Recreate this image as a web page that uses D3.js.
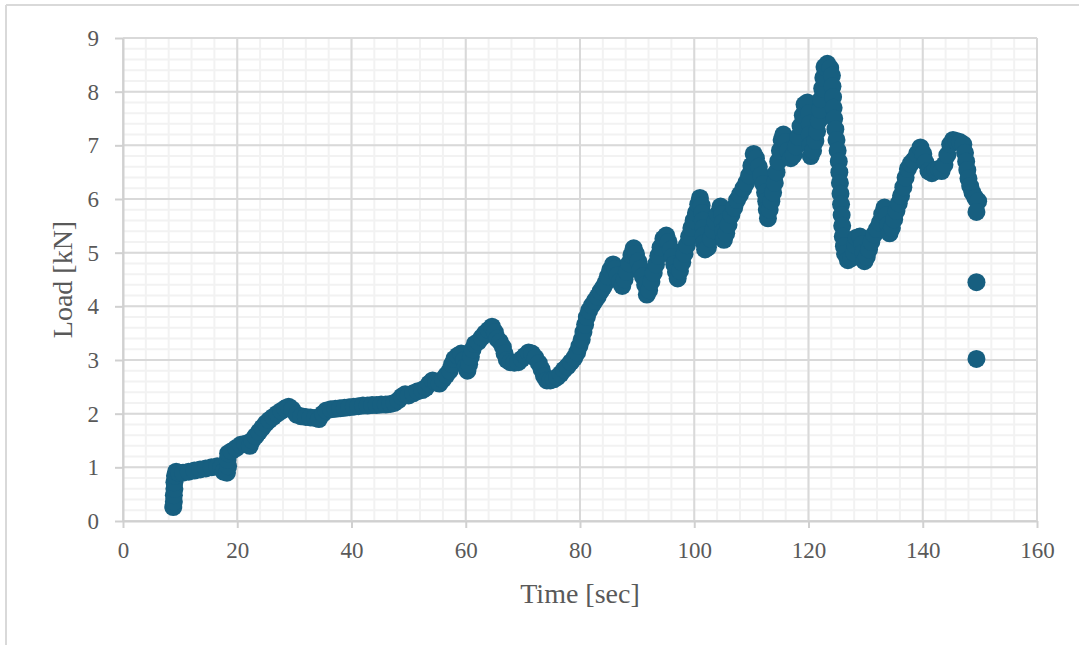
<!DOCTYPE html>
<html>
<head>
<meta charset="utf-8">
<script src="https://cdn.jsdelivr.net/npm/d3@7"></script>
<style>
  body { margin: 0; background: #fff; }
  svg text { font-family: "Liberation Serif", "Times New Roman", serif; fill: #595959; }
</style>
</head>
<body>
<div id="chart-container"></div>
<script>
// values
const timeSec = [
  8.8, 8.9, 8.9, 9.0, 9.0, 9.1, 9.3, 9.8, 10.5, 11.5, 12.5, 13.5, 14.5, 15.5, 16.5, 17.2, 17.6, 18.2, 18.4, 18.3,
  18.4, 19.0, 19.8, 20.6, 21.4, 22.2, 22.6, 23.2, 23.8, 24.4, 25.0, 25.6, 26.3, 27.0, 27.7, 28.4, 29.0, 29.6, 30.4, 31.2,
  32.0, 32.8, 33.6, 34.3, 35.0, 35.6, 36.4, 37.2, 38.0, 38.8, 39.6, 40.4, 41.2, 42.0, 42.8, 43.6, 44.4, 45.2, 46.0, 46.8,
  47.5, 48.2, 48.8, 49.4, 50.0, 50.8, 51.6, 52.4, 53.0, 53.6, 54.2, 54.8, 55.4, 56.0, 56.6, 57.2, 57.6, 58.0, 58.6, 59.2,
  59.7, 60.0, 60.3, 60.6, 60.9, 61.2, 61.6, 62.2, 62.8, 63.4, 64.0, 64.6, 65.1, 65.5, 66.0, 66.5, 66.8, 67.2, 67.8, 68.5,
  69.2, 69.8, 70.4, 71.0, 71.6, 72.2, 72.8, 73.3, 73.7, 74.2, 74.8, 75.4, 76.0, 76.6, 77.2, 77.8, 78.4, 79.0, 79.5, 79.9,
  80.3, 80.6, 80.9, 81.2, 81.6, 82.1, 82.6, 83.1, 83.6, 84.1, 84.5, 84.9, 85.3, 85.8, 86.2, 86.6, 87.0, 87.4, 87.8, 88.2,
  88.6, 89.0, 89.4, 89.8, 90.2, 90.6, 91.0, 91.4, 91.7, 92.1, 92.5, 92.9, 93.3, 93.7, 94.1, 94.6, 95.1, 95.5, 95.9, 96.2,
  96.5, 96.8, 97.1, 97.5, 97.9, 98.3, 98.7, 99.1, 99.5, 99.9, 100.3, 100.7, 101.0, 101.3, 101.4, 101.5, 101.6, 101.6, 101.7, 101.9,
  102.4, 102.9, 103.3, 103.7, 104.1, 104.6, 104.9, 105.0, 105.1, 105.2, 105.6, 106.0, 106.5, 107.0, 107.5, 108.0, 108.6, 109.1, 109.6, 110.0,
  110.4, 110.8, 111.3, 111.7, 112.1, 112.4, 112.6, 112.7, 112.9, 113.2, 113.5, 113.8, 114.1, 114.4, 114.7, 115.0, 115.3, 115.6, 116.0, 116.4,
  116.9, 117.4, 117.8, 118.2, 118.6, 119.0, 119.3, 119.8, 120.1, 120.2, 120.2, 120.3, 120.4, 120.8, 121.2, 121.5, 121.8, 122.0, 122.2, 122.4,
  122.6, 122.8, 123.3, 123.8, 124.1, 124.2, 124.3, 124.4, 124.5, 124.7, 124.9, 125.1, 125.3, 125.4, 125.5, 125.6, 125.7, 125.8, 125.9, 126.0,
  126.2, 126.4, 126.9, 127.5, 128.0, 128.2, 128.4, 129.0, 129.4, 129.6, 129.8, 130.2, 130.6, 131.0, 131.5, 132.0, 132.5, 132.9, 133.3, 133.7,
  133.9, 134.2, 134.6, 135.0, 135.4, 135.8, 136.2, 136.6, 137.0, 137.4, 137.9, 138.4, 139.0, 139.6, 140.1, 140.5, 141.0, 141.6, 142.2, 142.8,
  143.3, 143.8, 144.3, 144.8, 145.3, 145.9, 146.5, 147.1, 147.4, 147.6, 147.8, 148.0, 148.3, 148.7, 149.2, 149.7, 149.4, 149.4, 149.4
];
const loadKN = [
  0.26, 0.36, 0.48, 0.60, 0.72, 0.84, 0.92, 0.90, 0.90, 0.92, 0.94, 0.96, 0.98, 1.00, 1.02, 1.00, 0.92, 0.90, 1.02, 1.14,
  1.26, 1.30, 1.36, 1.42, 1.44, 1.40, 1.50, 1.58, 1.66, 1.74, 1.82, 1.88, 1.94, 2.00, 2.05, 2.10, 2.13, 2.08, 1.98, 1.95,
  1.94, 1.93, 1.92, 1.90, 2.00, 2.06, 2.08, 2.09, 2.10, 2.11, 2.12, 2.13, 2.14, 2.15, 2.15, 2.16, 2.16, 2.17, 2.17, 2.18,
  2.20, 2.25, 2.32, 2.36, 2.34, 2.38, 2.42, 2.44, 2.48, 2.56, 2.62, 2.58, 2.56, 2.64, 2.72, 2.80, 2.92, 3.02, 3.08, 3.12,
  3.00, 2.88, 2.80, 2.92, 3.06, 3.20, 3.30, 3.34, 3.42, 3.50, 3.56, 3.62, 3.52, 3.40, 3.34, 3.24, 3.12, 3.00, 2.96, 2.95,
  2.96, 3.02, 3.08, 3.14, 3.12, 3.04, 2.94, 2.82, 2.70, 2.62, 2.62, 2.64, 2.68, 2.74, 2.82, 2.88, 2.96, 3.04, 3.14, 3.26,
  3.38, 3.52, 3.66, 3.80, 3.92, 4.02, 4.10, 4.18, 4.28, 4.36, 4.44, 4.56, 4.68, 4.78, 4.70, 4.58, 4.46, 4.38, 4.50, 4.64,
  4.80, 4.96, 5.08, 4.98, 4.84, 4.70, 4.56, 4.40, 4.22, 4.30, 4.46, 4.62, 4.78, 4.94, 5.10, 5.26, 5.32, 5.20, 5.06, 4.92,
  4.78, 4.64, 4.52, 4.66, 4.82, 4.98, 5.14, 5.30, 5.46, 5.60, 5.74, 5.90, 6.02, 5.88, 5.74, 5.60, 5.46, 5.32, 5.18, 5.06,
  5.10, 5.26, 5.42, 5.58, 5.72, 5.86, 5.72, 5.56, 5.40, 5.24, 5.36, 5.52, 5.70, 5.84, 5.98, 6.08, 6.20, 6.30, 6.44, 6.62,
  6.84, 6.76, 6.60, 6.44, 6.28, 6.12, 5.96, 5.80, 5.64, 5.80, 5.96, 6.12, 6.30, 6.50, 6.70, 6.90, 7.10, 7.20, 7.06, 6.90,
  6.76, 6.82, 6.98, 7.16, 7.36, 7.56, 7.76, 7.80, 7.60, 7.40, 7.20, 7.00, 6.80, 6.90, 7.08, 7.26, 7.46, 7.66, 7.86, 8.06,
  8.26, 8.46, 8.52, 8.44, 8.30, 8.10, 7.90, 7.70, 7.50, 7.30, 7.10, 6.90, 6.70, 6.50, 6.30, 6.10, 5.90, 5.70, 5.50, 5.30,
  5.12, 4.98, 4.86, 4.90, 5.00, 5.14, 5.28, 5.30, 5.16, 5.00, 4.84, 4.92, 5.06, 5.20, 5.34, 5.44, 5.56, 5.72, 5.84, 5.70,
  5.52, 5.36, 5.46, 5.62, 5.78, 5.92, 6.06, 6.22, 6.40, 6.56, 6.66, 6.72, 6.84, 6.96, 6.84, 6.68, 6.52, 6.48, 6.54, 6.56,
  6.52, 6.64, 6.82, 7.02, 7.10, 7.08, 7.06, 7.02, 6.86, 6.70, 6.54, 6.38, 6.24, 6.12, 6.02, 5.96, 5.76, 4.45, 3.02
];
const xTicks = [0, 20, 40, 60, 80, 100, 120, 140, 160];
const yTicks = [0, 1, 2, 3, 4, 5, 6, 7, 8, 9];

const points = timeSec.map((t, i) => ({ t: t, load: loadKN[i] }));

const width = 1079, height = 645;
const margin = {top: 38, right: 42, bottom: 124, left: 123};
const plotW = width - margin.left - margin.right;
const plotH = height - margin.top - margin.bottom;

const svg = d3.select("#chart-container")
    .append("svg")
    .attr("width", width)
    .attr("height", height);

// outer frame (top and left edges visible)
svg.append("line").attr("x1", 6).attr("x2", width).attr("y1", 5).attr("y2", 5)
    .attr("stroke", "#d9d9d9").attr("stroke-width", 2);
svg.append("line").attr("x1", 6).attr("x2", 6).attr("y1", 5).attr("y2", height)
    .attr("stroke", "#d9d9d9").attr("stroke-width", 2);

const g = svg.append("g")
    .attr("transform", `translate(${margin.left},${margin.top})`);

const xScale = d3.scaleLinear().domain([0, 160]).range([0, plotW]);
const yScale = d3.scaleLinear().domain([0, 9]).range([plotH, 0]);

// minor grid
g.append("g").selectAll("line")
    .data(d3.range(0, 161, 4))
    .join("line")
    .attr("x1", d => xScale(d)).attr("x2", d => xScale(d))
    .attr("y1", 0).attr("y2", plotH)
    .attr("stroke", "#f2f2f2").attr("stroke-width", 2);
g.append("g").selectAll("line")
    .data(d3.range(0, 45).map(i => i * 0.2))
    .join("line")
    .attr("x1", 0).attr("x2", plotW)
    .attr("y1", d => yScale(d)).attr("y2", d => yScale(d))
    .attr("stroke", "#f2f2f2").attr("stroke-width", 2);

// major grid
g.append("g").selectAll("line")
    .data(xTicks)
    .join("line")
    .attr("x1", d => xScale(d)).attr("x2", d => xScale(d))
    .attr("y1", 0).attr("y2", plotH)
    .attr("stroke", "#d9d9d9").attr("stroke-width", 2);
g.append("g").selectAll("line")
    .data(yTicks)
    .join("line")
    .attr("x1", 0).attr("x2", plotW)
    .attr("y1", d => yScale(d)).attr("y2", d => yScale(d))
    .attr("stroke", "#d9d9d9").attr("stroke-width", 2);

// axes
const xAxis = d3.axisBottom(xScale).tickValues(xTicks).tickSize(7).tickPadding(14).tickSizeOuter(0);
const xAxisGroup = g.append("g")
    .attr("class", "x-axis")
    .attr("transform", `translate(0,${plotH})`)
    .call(xAxis);

const yAxis = d3.axisLeft(yScale).tickValues(yTicks).tickSize(8).tickPadding(16).tickSizeOuter(0);
const yAxisGroup = g.append("g")
    .attr("class", "y-axis")
    .call(yAxis);

[xAxisGroup, yAxisGroup].forEach(ax => {
    ax.select(".domain").attr("stroke", "#d0d0d0").attr("stroke-width", 2);
    ax.selectAll(".tick line").attr("stroke", "#d0d0d0").attr("stroke-width", 2);
    ax.selectAll(".tick text")
        .style("font-family", "'Liberation Serif', 'Times New Roman', serif")
        .style("font-size", "23px")
        .attr("fill", "#595959");
});

// axis titles
g.append("text")
    .attr("transform", `translate(${plotW / 2}, ${plotH + 82})`)
    .style("text-anchor", "middle")
    .style("font-size", "28px")
    .text("Time [sec]");

g.append("text")
    .attr("transform", `translate(${72 - margin.left}, ${plotH / 2}) rotate(-90)`)
    .style("text-anchor", "middle")
    .style("font-size", "28px")
    .text("Load [kN]");

// points
g.append("g").selectAll("circle")
    .data(points)
    .join("circle")
    .attr("cx", d => xScale(d.t))
    .attr("cy", d => yScale(d.load))
    .attr("r", 9)
    .attr("fill", "#175f80");
</script>
</body>
</html>
